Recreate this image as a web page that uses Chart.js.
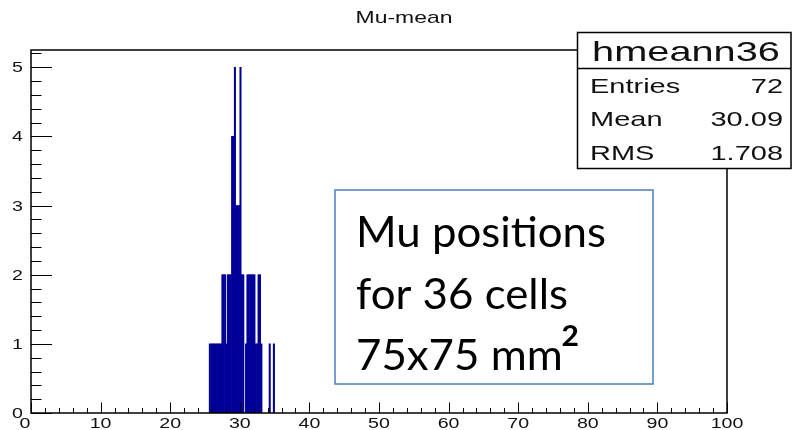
<!DOCTYPE html>
<html>
<head>
<meta charset="utf-8">
<script src="https://cdn.jsdelivr.net/npm/chart.js@4.4.1/dist/chart.umd.min.js"></script>
<style>
    html, body { margin: 0; padding: 0; background: #fff; }
    #wrap { width: 792px; height: 430px; }
</style>
</head>
<body>
<div id="wrap"><canvas id="hist" width="792" height="430"></canvas></div>
<script>
const BIN_WIDTH = 0.2;

// low edge of each non-empty bin and its content
const binLow = [
    25.6, 25.8, 26.0, 26.2, 26.4, 26.6, 26.8, 27.0, 27.2,
    27.4, 27.6, 27.8, 28.0, 28.2, 28.4, 28.6,
    28.8, 29.0, 29.2, 29.4, 29.6, 29.8, 30.0, 30.2, 30.4,
    30.8, 31.0, 31.2, 31.4, 31.6, 31.8, 32.0, 32.2, 32.4, 32.6, 32.8,
    33.0, 34.2, 34.8
];
const binCount = [
    1, 1, 1, 1, 1, 1, 1, 1, 1,
    2, 2, 2, 1, 2, 2, 2,
    4, 4, 5, 3, 3, 3, 5, 2, 2,
    1, 2, 2, 2, 2, 2, 2, 1, 1, 2, 2,
    1, 1, 1
];

const xTicks = [0, 10, 20, 30, 40, 50, 60, 70, 80, 90, 100];
const yTicks = [0, 1, 2, 3, 4, 5];
const xMinorStep = 2;
const yMinorStep = 0.2;

const histTitle = "Mu-mean";
const histName = "hmeann36";
const statsLabels = ["Entries", "Mean", "RMS"];
const statsValues = ["72", "30.09", "1.708"];
const noteLines = ["Mu positions", "for 36 cells", "75x75 mm²"];

const ROOT_FONT = "Liberation Sans, Arial, sans-serif";
const STRETCH = 1.4;

function drawText(c, str, x, y, size, align, sx) {
    c.save();
    c.font = size + "px " + ROOT_FONT;
    c.translate(x, y);
    c.scale(sx, 1);
    c.textAlign = align;
    c.textBaseline = "alphabetic";
    c.fillText(str, 0, 0);
    c.restore();
}

const rootFrame = {
    id: "rootFrame",
    afterDraw(chart) {
        const c = chart.ctx;
        const a = chart.chartArea;
        const xs = chart.scales.x;
        const ys = chart.scales.y;

        c.save();
        c.fillStyle = "#111";
        c.strokeStyle = "#000";

        // frame
        c.lineWidth = 1.5;
        c.strokeRect(a.left, a.top, a.right - a.left, a.bottom - a.top);

        // ticks, drawn inside the frame like ROOT
        c.lineWidth = 1;
        c.beginPath();
        for (let i = 0; i * xMinorStep <= xs.max; i++) {
            const v = i * xMinorStep;
            const px = Math.round(xs.getPixelForValue(v)) + 0.5;
            const len = v % 10 === 0 ? 10.5 : 5;
            c.moveTo(px, a.bottom);
            c.lineTo(px, a.bottom - len);
        }
        for (let i = 0; i * yMinorStep <= ys.max; i++) {
            const v = i * yMinorStep;
            const py = Math.round(ys.getPixelForValue(v)) + 0.5;
            const len = i % 5 === 0 ? 21 : 10.5;
            c.moveTo(a.left, py);
            c.lineTo(a.left + len, py);
        }
        c.stroke();

        // tick labels
        xTicks.forEach((v) => {
            const px = xs.getPixelForValue(v) - (v === 0 ? 6 : 0);
            drawText(c, String(v), px, 428, 14, "center", STRETCH);
        });
        yTicks.forEach((v) => {
            drawText(c, String(v), 23, ys.getPixelForValue(v) + 5, 14, "right", STRETCH);
        });

        // title
        drawText(c, histTitle, 404, 23, 17, "center", 1.35);

        // stats box
        c.fillStyle = "#fff";
        c.fillRect(577.5, 32.5, 213.5, 136);
        c.lineWidth = 1.5;
        c.strokeRect(577.5, 32.5, 213.5, 136);
        c.beginPath();
        c.moveTo(577.5, 68.5);
        c.lineTo(791, 68.5);
        c.stroke();
        c.fillStyle = "#111";
        drawText(c, histName, 686, 61, 28, "center", 1.42);
        statsLabels.forEach((lab, i) => {
            const y = 93 + i * 33.3;
            drawText(c, lab, 590, y, 21, "left", 1.38);
            drawText(c, statsValues[i], 783, y, 21, "right", 1.38);
        });

        // note box
        c.lineWidth = 1.5;
        c.strokeStyle = "#4a7ebb";
        c.fillStyle = "#fff";
        c.fillRect(335, 190, 318, 194);
        c.strokeRect(335, 190, 318, 194);
        c.fillStyle = "#000";
        c.font = "42px Lato, sans-serif";
        const sx = 250 / c.measureText(noteLines[0]).width;
        noteLines.forEach((line, i) => {
            c.save();
            c.translate(356, 247 + i * 61.5);
            c.scale(sx, 1);
            c.textAlign = "left";
            const sup = line.endsWith("²");
            const body = sup ? line.slice(0, -1) : line;
            c.font = "42px Lato, sans-serif";
            c.fillText(body, 0, 0);
            if (sup) {
                // the superscript is larger in the reference than Lato's ² glyph
                const w = c.measureText(body).width;
                c.font = "56px Lato, sans-serif";
                c.fillText("²", w - 2, 1);
            }
            c.restore();
        });

        c.restore();
    }
};

document.addEventListener("DOMContentLoaded", function () {
    let ctx = document.getElementById("hist").getContext("2d");

    new Chart(ctx, {
        type: "bar",
        data: {
            datasets: [
                {
                    label: histName,
                    data: binLow.map((lo, i) => ({ x: lo + BIN_WIDTH / 2, y: binCount[i] })),
                    backgroundColor: "#000099",
                    borderWidth: 0,
                    barPercentage: 1,
                    categoryPercentage: 1
                }
            ]
        },
        options: {
            responsive: false,
            animation: false,
            layout: {
                padding: { left: 31, right: 65, top: 50, bottom: 17 }
            },
            scales: {
                x: { type: "linear", min: 0, max: 100, offset: false, display: false },
                y: { min: 0, max: 5.25, display: false }
            },
            plugins: {
                legend: { display: false },
                tooltip: { enabled: false },
                title: { display: false }
            }
        },
        plugins: [rootFrame]
    });
});
</script>
</body>
</html>
